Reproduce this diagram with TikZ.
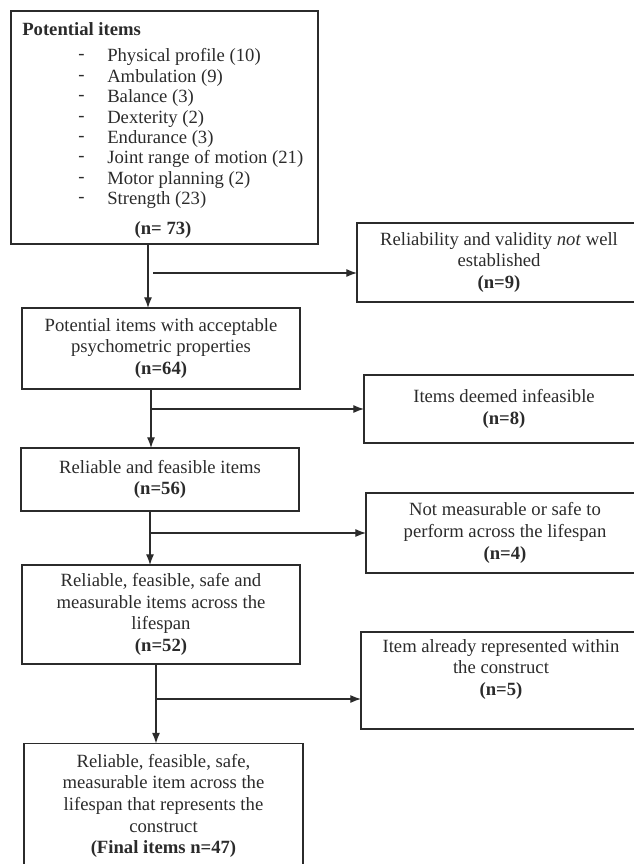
\documentclass[tikz,border=0pt]{standalone}
\usepackage{fontspec}
\setmainfont{Liberation Serif}
\usetikzlibrary{arrows.meta,positioning,calc}
\definecolor{fink}{HTML}{2B2B2B}
\tikzset{
  box/.style  = {draw=fink, line width=0.9pt, rectangle, inner sep=0pt,
                 outer sep=0pt, align=center, text=fink,
                 font=\fontsize{14}{16.2}\selectfont},
  txt/.style  = {inner sep=0pt, text=fink, align=center,
                 font=\fontsize{14}{16.2}\selectfont},
  item/.style = {txt, anchor=west},
  sig/.style  = {-{Latex[length=2.8mm,width=2.1mm]}, line width=0.9pt, draw=fink},
}

\begin{document}
\begin{tikzpicture}[x=0.75pt,y=-0.75pt]
\useasboundingbox (0,0) rectangle (634,864);
% ---- main column ----
\node[box, minimum width=230.25pt, minimum height=174.75pt] (pot) at (164.5,127.5) {};
\node[item] (pothead) at (22,29.5) {\textbf{Potential items}};
\foreach \lbl [count=\i] in {Physical profile (10), Ambulation (9), Balance (3),
    Dexterity (2), Endurance (3), Joint range of motion (21),
    Motor planning (2), Strength (23)} {
  \node[item] (dash\i) at (78,37+20.4*\i) {-};
  \node[item] (item\i) at (107,37+20.4*\i) {\lbl};
}
\node[txt] (potn) at (163,230) {\textbf{(n= 73)}};
\node[box, minimum width=208.5pt, minimum height=60.75pt] (acc) at (161,348.5)
  {Potential items with acceptable\\psychometric properties\\\textbf{(n=64)}};
\node[box, minimum width=208.5pt, minimum height=47.25pt] (feas) at (160,479.5)
  {Reliable and feasible items\\\textbf{(n=56)}};
\node[box, minimum width=208.5pt, minimum height=74.25pt] (safe) at (161,614.5)
  {Reliable, feasible, safe and\\measurable items across the\\lifespan\\\textbf{(n=52)}};
\node[box, minimum width=209.25pt, minimum height=93.75pt] (final) at (163.5,806)
  {Reliable, feasible, safe,\\measurable item across the\\lifespan that represents the\\construct\\\textbf{(Final items n=47)}};
% ---- excluded items ----
\node[box, minimum width=213pt, minimum height=59.25pt] (rv) at (499,262.5)
  {Reliability and validity \textit{not} well\\established\\\textbf{(n=9)}};
\node[box, minimum width=210pt, minimum height=51pt] (infeas) at (504,409)
  {Items deemed infeasible\\\textbf{(n=8)}};
\node[box, minimum width=208.5pt, minimum height=60pt] (unsafe) at (505,533)
  {Not measurable or safe to\\perform across the lifespan\\\textbf{(n=4)}};
\node[box, minimum width=210pt, minimum height=72.75pt] (dup) at (501,680.5) {};
\node[txt, anchor=north] (duptxt) at ($(dup.north)+(0,7)$)
  {Item already represented within\\the construct\\\textbf{(n=5)}};
% ---- flow ----
\coordinate (j1) at (148,273);
\coordinate (j2) at (151,409);
\coordinate (j3) at (150,533);
\coordinate (j4) at (156,699);
\draw[sig] (j1 |- pot.south) -- (j1 |- acc.north);
\draw[sig] ($(j1)+(5,0)$) -- (j1 -| rv.west);
\draw[sig] (j2 |- acc.south) -- (j2 |- feas.north);
\draw[sig] (j2) -- (j2 -| infeas.west);
\draw[sig] (j3 |- feas.south) -- (j3 |- safe.north);
\draw[sig] (j3) -- (j3 -| unsafe.west);
\draw[sig] (j4 |- safe.south) -- (j4 |- final.north);
\draw[sig] (j4) -- (j4 -| dup.west);
\end{tikzpicture}
\end{document}
